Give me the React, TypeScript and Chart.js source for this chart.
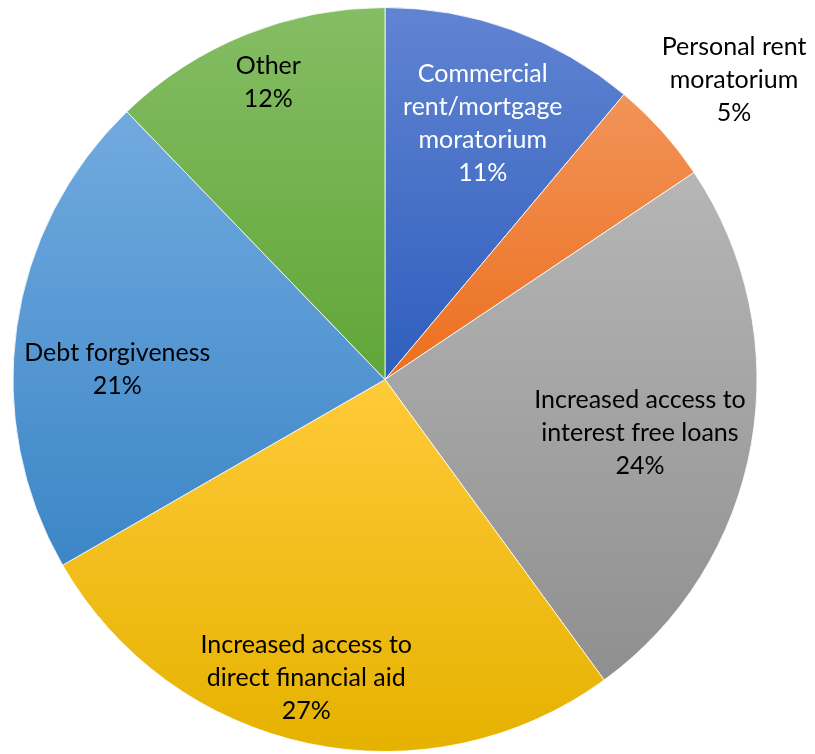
import React, { useEffect, useRef } from "react";
import { Chart, registerables } from "chart.js";

Chart.register(...registerables);

const categories = [
  "Commercial rent/mortgage moratorium",
  "Personal rent moratorium",
  "Increased access to interest free loans",
  "Increased access to direct financial aid",
  "Debt forgiveness",
  "Other",
];
const values = [11.1, 4.5, 24.35, 26.7, 21.1, 12.2];
const labelLines = [
  ["Commercial", "rent/mortgage", "moratorium"],
  ["Personal rent", "moratorium"],
  ["Increased access to", "interest free loans"],
  ["Increased access to", "direct financial aid"],
  ["Debt forgiveness"],
  ["Other"],
];
const topColors = ["#6184D2", "#F29358", "#B6B6B6", "#FFCA38", "#71AADF", "#85BD64"];
const bottomColors = ["#2E5EBD", "#EC6F1E", "#8F8F8F", "#E5B200", "#3C86C7", "#60A637"];
const labelColors = ["#FFFFFF", "#000000", "#000000", "#000000", "#000000", "#000000"];
// label placement style: radius fraction and angular nudge (degrees)
const labelRadius = [0.737, 1.236, 0.70, 0.83, 0.72, 0.857];
const labelAngleNudge = [0.9, 1.3, 1.7, 2.8, -6.0, 0.5];

const FONT = "Lato, 'Noto Sans', sans-serif";
const FONT_SIZE = 25;
const LINE_H = 33;

function sliceGradient(ctx: CanvasRenderingContext2D, area: any, index: number) {
  const total = values.reduce((a, b) => a + b, 0);
  let before = 0;
  for (let i = 0; i < index; i++) before += values[i];
  const a0 = -Math.PI / 2 + (before / total) * Math.PI * 2;
  const a1 = a0 + (values[index] / total) * Math.PI * 2;
  const cx = (area.left + area.right) / 2;
  const cy = (area.top + area.bottom) / 2;
  const r = Math.min(area.right - area.left, area.bottom - area.top) / 2;
  const ys = [cy, cy + r * Math.sin(a0), cy + r * Math.sin(a1)];
  for (let k = -2; k <= 2; k++) {
    for (const t of [Math.PI / 2, -Math.PI / 2]) {
      const a = t + k * 2 * Math.PI;
      if (a > a0 && a < a1) ys.push(cy + r * Math.sin(a));
    }
  }
  const minY = Math.min(...ys);
  const maxY = Math.max(...ys);
  const g = ctx.createLinearGradient(0, minY, 0, maxY);
  g.addColorStop(0, topColors[index]);
  g.addColorStop(1, bottomColors[index]);
  return g;
}

const labelPlugin = {
  id: "sliceLabels",
  afterDatasetsDraw(chart: any) {
    const ctx = chart.ctx as CanvasRenderingContext2D;
    const meta = chart.getDatasetMeta(0);
    const total = values.reduce((a, b) => a + b, 0);
    ctx.save();
    ctx.font = `${FONT_SIZE}px ${FONT}`;
    ctx.textAlign = "center";
    ctx.textBaseline = "middle";
    meta.data.forEach((arc: any, i: number) => {
      const mid = (arc.startAngle + arc.endAngle) / 2 + (labelAngleNudge[i] * Math.PI) / 180;
      const rr = arc.outerRadius * labelRadius[i];
      const x = arc.x + rr * Math.cos(mid);
      const y = arc.y + rr * Math.sin(mid);
      const lines = [...labelLines[i], Math.round((values[i] / total) * 100) + "%"];
      const h = (lines.length - 1) * LINE_H;
      ctx.fillStyle = labelColors[i];
      lines.forEach((t, j) => ctx.fillText(t, x, y - h / 2 + j * LINE_H));
    });
    ctx.restore();
  },
};

export default function App() {
  const ref = useRef<HTMLCanvasElement | null>(null);
  useEffect(() => {
    if (!ref.current) return;
    const chart = new Chart(ref.current, {
      type: "pie",
      data: {
        labels: categories,
        datasets: [
          {
            data: values,
            backgroundColor: (c: any) => {
              const area = c.chart.chartArea;
              if (!area) return topColors[c.dataIndex];
              return sliceGradient(c.chart.ctx, area, c.dataIndex);
            },
            borderColor: "rgba(255,255,255,0.8)",
            borderWidth: 1,
          },
        ],
      },
      options: {
        responsive: false,
        animation: false,
        layout: { padding: { top: 7, bottom: 2, left: 12, right: 57 } },
        plugins: { legend: { display: false }, tooltip: { enabled: false } },
      },
      plugins: [labelPlugin],
    });
    return () => chart.destroy();
  }, []);
  return (
    <div style={{ position: "fixed", left: 0, top: 0, width: 815, height: 754, background: "#fff" }}>
      <canvas ref={ref} width={815} height={754} />
    </div>
  );
}
